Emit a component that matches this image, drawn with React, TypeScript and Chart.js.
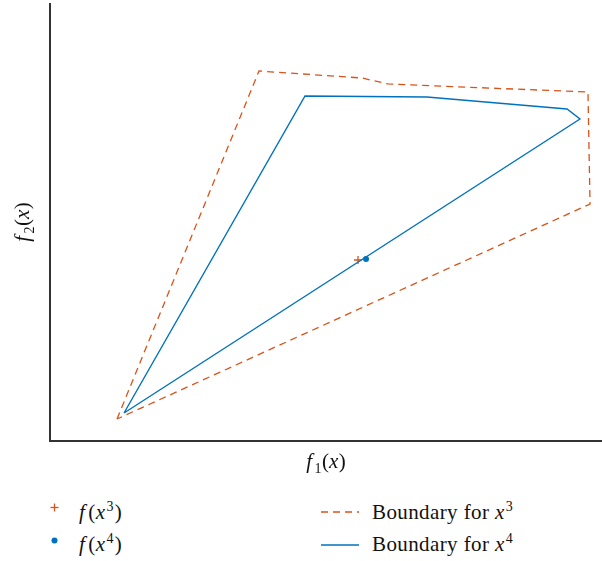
import React, { useEffect, useRef } from "react";
import { Chart, registerables } from "chart.js";

Chart.register(...registerables);

// Objective-space boundaries (f1, f2) for the two solutions
const boundaryX3: { x: number; y: number }[] = [
  { x: 1.214, y: 0.402 },
  { x: 3.786, y: 6.758 },
  { x: 5.652, y: 6.63 },
  { x: 6.123, y: 6.521 },
  { x: 9.746, y: 6.374 },
  { x: 9.783, y: 4.329 },
  { x: 1.214, y: 0.402 },
];

const boundaryX4: { x: number; y: number }[] = [
  { x: 1.341, y: 0.511 },
  { x: 4.62, y: 6.301 },
  { x: 6.83, y: 6.283 },
  { x: 9.366, y: 6.064 },
  { x: 9.601, y: 5.881 },
  { x: 1.341, y: 0.511 },
];

const pointX3 = [{ x: 5.58, y: 3.306 }];
const pointX4 = [{ x: 5.725, y: 3.324 }];

const ORANGE = "#D95319";
const BLUE = "#0072BD";
const SERIF = '"Liberation Serif", "Times New Roman", serif';

type Part = { t: string; italic?: boolean; sub?: boolean; gap?: number };

// Draws a small math expression (italic symbols, subscript digits) centred on cx, baseline at y
function drawMath(ctx: CanvasRenderingContext2D, cx: number, y: number, parts: Part[], size: number) {
  const fontFor = (p: Part) =>
    `${p.italic ? "italic " : ""}${p.sub ? Math.round(size * 0.68) : size}px ${SERIF}`;
  let total = 0;
  for (const p of parts) {
    ctx.font = fontFor(p);
    total += ctx.measureText(p.t).width + (p.gap || 0);
  }
  let x = cx - total / 2;
  ctx.textBaseline = "alphabetic";
  ctx.textAlign = "left";
  for (const p of parts) {
    ctx.font = fontFor(p);
    ctx.fillText(p.t, x, p.sub ? y + size * 0.22 : y);
    x += ctx.measureText(p.t).width + (p.gap || 0);
  }
}

const axesPlugin = {
  id: "axesAndTitles",
  afterDraw(chart: any) {
    const { ctx, chartArea, width } = chart;
    ctx.save();
    ctx.strokeStyle = "#333";
    ctx.lineWidth = 2;
    ctx.beginPath();
    ctx.moveTo(chartArea.left, chartArea.top);
    ctx.lineTo(chartArea.left, chartArea.bottom);
    ctx.lineTo(width, chartArea.bottom);
    ctx.stroke();

    ctx.fillStyle = "#111";
    const midX = (chartArea.left + chartArea.right) / 2;
    drawMath(
      ctx,
      midX,
      chartArea.bottom + 27,
      [{ t: "f", italic: true, gap: 2.5 }, { t: "1", sub: true, gap: 0.5 }, { t: "(" }, { t: "x", italic: true, gap: 0.5 }, { t: ")" }],
      21
    );
    const midY = (chartArea.top + chartArea.bottom) / 2;
    ctx.translate(29, midY);
    ctx.rotate(-Math.PI / 2);
    drawMath(
      ctx,
      0,
      0,
      [{ t: "f", italic: true, gap: 2.5 }, { t: "2", sub: true, gap: 0.5 }, { t: "(" }, { t: "x", italic: true, gap: 0.5 }, { t: ")" }],
      21
    );
    ctx.restore();
  },
};

function Marker({ kind }: { kind: "plus" | "dot" | "dash" | "solid" }) {
  if (kind === "plus") {
    return (
      <svg width={9} height={9} style={{ display: "block" }}>
        <line x1={4.5} y1={0.5} x2={4.5} y2={8.5} stroke={ORANGE} strokeWidth={1.3} />
        <line x1={0.5} y1={4.5} x2={8.5} y2={4.5} stroke={ORANGE} strokeWidth={1.3} />
      </svg>
    );
  }
  if (kind === "dot") {
    return (
      <svg width={7} height={7} style={{ display: "block" }}>
        <circle cx={3.5} cy={3.5} r={3} fill={BLUE} />
      </svg>
    );
  }
  if (kind === "dash") {
    return (
      <svg width={38} height={4} style={{ display: "block" }}>
        <line x1={0} y1={2} x2={38} y2={2} stroke={ORANGE} strokeWidth={1.3} strokeDasharray="7 5" />
      </svg>
    );
  }
  return (
    <svg width={38} height={4} style={{ display: "block" }}>
      <line x1={0} y1={2} x2={38} y2={2} stroke={BLUE} strokeWidth={1.4} />
    </svg>
  );
}

const legendText: React.CSSProperties = {
  position: "absolute",
  fontFamily: SERIF,
  fontSize: 21,
  color: "#111",
  lineHeight: "24px",
  height: 24,
  whiteSpace: "nowrap",
  letterSpacing: 0.4,
};

const supStyle: React.CSSProperties = {
  fontSize: 14,
  verticalAlign: "baseline",
  position: "relative",
  top: -8,
  lineHeight: 0,
};

function Power({ base, exp, fn }: { base: string; exp: string; fn?: boolean }) {
  if (fn) {
    return (
      <>
        <i style={{ marginRight: 3 }}>f</i>(<i style={{ marginRight: 1 }}>{base}</i>
        <span style={supStyle}>{exp}</span>
        <span style={{ marginLeft: 1 }}>)</span>
      </>
    );
  }
  return (
    <>
      <i style={{ marginRight: 1 }}>{base}</i>
      <span style={supStyle}>{exp}</span>
    </>
  );
}

export default function App() {
  const canvasRef = useRef<HTMLCanvasElement | null>(null);

  useEffect(() => {
    document.body.style.margin = "0";
    const canvas = canvasRef.current;
    if (!canvas) return;
    const chart = new Chart(canvas, {
      type: "scatter",
      data: {
        datasets: [
          {
            label: "Boundary for x3",
            data: boundaryX3,
            showLine: true,
            borderColor: ORANGE,
            borderWidth: 1.3,
            borderDash: [7, 5],
            pointRadius: 0,
            fill: false,
          },
          {
            label: "Boundary for x4",
            data: boundaryX4,
            showLine: true,
            borderColor: BLUE,
            borderWidth: 1.4,
            pointRadius: 0,
            fill: false,
          },
          {
            label: "f(x3)",
            data: pointX3,
            pointStyle: "cross",
            pointRadius: 4,
            borderColor: ORANGE,
            borderWidth: 1.3,
          },
          {
            label: "f(x4)",
            data: pointX4,
            pointStyle: "circle",
            pointRadius: 3,
            backgroundColor: BLUE,
            borderColor: BLUE,
            borderWidth: 0,
          },
        ],
      },
      options: {
        responsive: false,
        animation: false,
        devicePixelRatio: 1,
        layout: { autoPadding: false, padding: { left: 50, top: 3, right: 0, bottom: 39 } },
        plugins: { legend: { display: false }, tooltip: { enabled: false } },
        scales: {
          x: { type: "linear", min: 0, max: 10, display: false },
          y: { type: "linear", min: 0, max: 8, display: false },
        },
      },
      plugins: [axesPlugin],
    });
    return () => chart.destroy();
  }, []);

  return (
    <div style={{ position: "relative", width: 602, height: 561, background: "#fff" }}>
      <canvas ref={canvasRef} width={602} height={480} style={{ display: "block" }} />
      <div style={{ position: "absolute", left: 50, top: 503 }}>
        <Marker kind="plus" />
      </div>
      <div style={{ ...legendText, left: 79, top: 500 }}>
        <Power base="x" exp="3" fn />
      </div>
      <div style={{ position: "absolute", left: 51, top: 537 }}>
        <Marker kind="dot" />
      </div>
      <div style={{ ...legendText, left: 79, top: 532 }}>
        <Power base="x" exp="4" fn />
      </div>
      <div style={{ position: "absolute", left: 321, top: 510 }}>
        <Marker kind="dash" />
      </div>
      <div style={{ ...legendText, left: 372, top: 500 }}>
        Boundary for <Power base="x" exp="3" />
      </div>
      <div style={{ position: "absolute", left: 321, top: 543 }}>
        <Marker kind="solid" />
      </div>
      <div style={{ ...legendText, left: 372, top: 532 }}>
        Boundary for <Power base="x" exp="4" />
      </div>
    </div>
  );
}
